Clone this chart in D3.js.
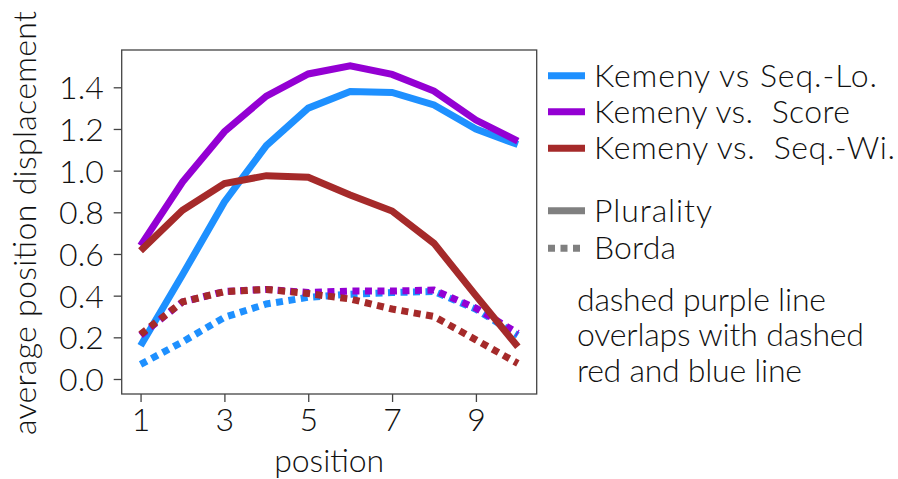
<!DOCTYPE html>
<html>
<head>
<meta charset="utf-8">
<script src="https://cdn.jsdelivr.net/npm/d3@7"></script>
<style>
body { margin: 0; background: #fff; }
text { font-family: "Lato", "DejaVu Sans", sans-serif; font-weight: 300; fill: #111; white-space: pre; }
</style>
</head>
<body>
<div id="chart"></div>
<script>
// positions 1..10
var positions = [1, 2, 3, 4, 5, 6, 7, 8, 9, 10];

// Plurality (solid)
var loPlurality    = [0.16, 0.50, 0.85, 1.12, 1.30, 1.38, 1.375, 1.315, 1.20, 1.125];
var scorePlurality = [0.64, 0.945, 1.187, 1.358, 1.464, 1.503, 1.462, 1.382, 1.243, 1.142];
var wiPlurality    = [0.615, 0.81, 0.938, 0.976, 0.968, 0.883, 0.806, 0.651, 0.40, 0.155];

// Borda (dotted)
var loBorda    = [0.07, 0.178, 0.296, 0.36, 0.392, 0.407, 0.415, 0.42, 0.335, 0.21];
var scoreBorda = [0.21, 0.37, 0.42, 0.43, 0.415, 0.422, 0.422, 0.427, 0.34, 0.22];
var wiBorda    = [0.215, 0.37, 0.419, 0.43, 0.41, 0.384, 0.336, 0.30, 0.188, 0.075];

var xTicks = [1, 3, 5, 7, 9];
var yTicks = [0.0, 0.2, 0.4, 0.6, 0.8, 1.0, 1.2, 1.4];

var series = [
  {name: "Kemeny vs Seq.-Lo.", len: 283, color: "#1e90ff", solid: loPlurality, dotted: loBorda},
  {name: "Kemeny vs.  Score", len: 256, color: "#9400d3", solid: scorePlurality, dotted: scoreBorda},
  {name: "Kemeny vs.  Seq.-Wi.", len: 301, color: "#a52a2a", solid: wiPlurality, dotted: wiBorda}
];

var W = 898, H = 479;
var pLeft = 121.7, pRight = 536.7, pTop = 50, pBottom = 394;
var fs = 32, lw = 7, dots = "7,5.5";

var svg = d3.select("#chart").append("svg")
    .attr("width", W)
    .attr("height", H);

var x = d3.scaleLinear().domain([0.55, 10.45]).range([pLeft, pRight]);
var y = d3.scaleLinear().domain([-0.072, 1.579]).range([pBottom, pTop]);

var line = d3.line()
    .x(function(d, i) { return x(positions[i]); })
    .y(function(d) { return y(d); });

var plot = svg.append("g");
series.forEach(function(s) {
  plot.append("path")
      .attr("d", line(s.solid))
      .attr("fill", "none")
      .attr("stroke", s.color)
      .attr("stroke-width", lw);
  plot.append("path")
      .attr("d", line(s.dotted))
      .attr("fill", "none")
      .attr("stroke", s.color)
      .attr("stroke-width", lw)
      .attr("stroke-dasharray", dots);
});

// frame
svg.append("rect")
    .attr("x", pLeft).attr("y", pTop)
    .attr("width", pRight - pLeft).attr("height", pBottom - pTop)
    .attr("fill", "none")
    .attr("stroke", "#444")
    .attr("stroke-width", 1.3);

var xAxis = svg.append("g")
    .attr("transform", "translate(0," + pBottom + ")")
    .call(d3.axisBottom(x).tickValues(xTicks).tickSize(8).tickPadding(6).tickFormat(d3.format("d")));
var yAxis = svg.append("g")
    .attr("transform", "translate(" + pLeft + ",0)")
    .call(d3.axisLeft(y).tickValues(yTicks).tickSize(8).tickPadding(10).tickFormat(d3.format(".1f")));
[xAxis, yAxis].forEach(function(a) {
  a.select(".domain").remove();
  a.selectAll("line").attr("stroke", "#444").attr("stroke-width", 1.3);
  a.selectAll("text").style("font-size", fs + "px").attr("fill", "#111");
  a.attr("font-family", null).attr("font-size", null);
});
yAxis.selectAll("text").attr("dy", "0.36em");

svg.append("text")
    .attr("x", (pLeft + pRight) / 2).attr("y", 471.7)
    .attr("text-anchor", "middle")
    .attr("textLength", 110)
    .style("font-size", fs + "px")
    .text("position");

svg.append("text")
    .attr("transform", "translate(36,223) rotate(-90)")
    .attr("text-anchor", "middle")
    .attr("textLength", 424)
    .style("font-size", fs + "px")
    .text("average position displacement");

// legend
var legY = [75.7, 111.7, 148.3];
var leg = svg.append("g");
series.forEach(function(s, i) {
  leg.append("line")
      .attr("x1", 548).attr("x2", 585)
      .attr("y1", legY[i]).attr("y2", legY[i])
      .attr("stroke", s.color).attr("stroke-width", lw);
  leg.append("text")
      .attr("x", 594).attr("y", legY[i] + 11)
      .attr("textLength", s.len)
      .style("font-size", fs + "px")
      .text(s.name);
});
var styles = [{name: "Plurality", len: 118, dash: null, yy: 210.7}, {name: "Borda", len: 82, dash: dots, yy: 248.3}];
styles.forEach(function(s) {
  leg.append("line")
      .attr("x1", 548).attr("x2", 585)
      .attr("y1", s.yy).attr("y2", s.yy)
      .attr("stroke", "#808080").attr("stroke-width", lw)
      .attr("stroke-dasharray", s.dash);
  leg.append("text")
      .attr("x", 594).attr("y", s.yy + 11)
      .attr("textLength", s.len)
      .style("font-size", fs + "px")
      .text(s.name);
});

var note = ["dashed purple line", "overlaps with dashed", "red and blue line"];
var noteLen = [249, 287, 225];
note.forEach(function(t, i) {
  svg.append("text")
      .attr("x", 577).attr("y", 310.7 + i * 35.5)
      .attr("textLength", noteLen[i])
      .style("font-size", fs + "px")
      .text(t);
});
</script>
</body>
</html>
